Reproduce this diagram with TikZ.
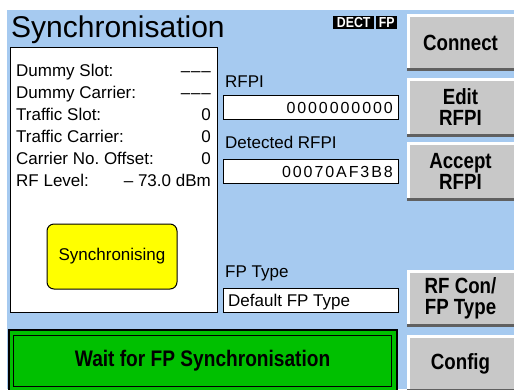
\documentclass[tikz,border=0pt]{standalone}
\usepackage{fontspec}
\setmainfont{Liberation Sans}
\newfontfamily\condfont[FakeStretch=0.85]{Liberation Sans}
\newfontfamily\digitfont[LetterSpace=12]{Liberation Sans}
\definecolor{panelblue}{RGB}{166,202,240}
\definecolor{btngray}{RGB}{200,200,200}
\definecolor{btnshadow}{RGB}{96,96,96}
\definecolor{statusgreen}{RGB}{0,192,0}
\definecolor{syncyellow}{RGB}{255,255,0}
\frenchspacing
\tikzset{
  lbl/.style={inner sep=0pt, font=\fontsize{17}{20}\selectfont},
  valbox/.style={draw=black, fill=white, line width=1.2pt, inner sep=0pt, anchor=north west, minimum width=175pt, minimum height=24pt},
  btn/.style={fill=btngray, inner sep=0pt, minimum width=107pt, align=center,
    font=\condfont\bfseries\fontsize{22}{21}\selectfont,
    path picture={
      \fill[white] (path picture bounding box.north west) rectangle ([yshift=-2.5pt]path picture bounding box.north east);
      \fill[white] (path picture bounding box.north west) rectangle ([xshift=2.5pt]path picture bounding box.south west);
      \fill[btnshadow] (path picture bounding box.south west) rectangle ([yshift=3pt]path picture bounding box.south east);
    }},
  badge/.style={fill=black, text=white, inner sep=0pt, anchor=north west, minimum height=13pt,
    font=\condfont\bfseries\fontsize{14.5}{13}\selectfont},
}
\newcommand{\nodash}{\textendash\kern0.8pt\textendash\kern0.8pt\textendash}
\begin{document}
\begin{tikzpicture}[x=1pt,y=-1pt]
\useasboundingbox (0,0) rectangle (514,389);
\fill[white] (0,0) rectangle (514,389);
\fill[panelblue] (7,10) rectangle (514,389);

% title
\node[inner sep=0pt, anchor=base west, font=\fontsize{30}{36}\selectfont] (title) at (11,37) {Synchronisation};
\node[badge, minimum width=41pt] (dect) at (333,16) {DECT};
\node[badge, minimum width=21pt] (fpb) at (376,16) {FP};

% left info panel
\node[draw=black, fill=white, line width=1.2pt, anchor=north west, minimum width=207pt, minimum height=265pt, inner sep=0pt] (infopanel) at (10,47) {};
\node[lbl, anchor=base west] (l1) at (16,76) {Dummy Slot:};
\node[lbl, anchor=base east] (v1) at (211,76) {\nodash};
\node[lbl, anchor=base west] (l2) at (16,98) {Dummy Carrier:};
\node[lbl, anchor=base east] (v2) at (211,98) {\nodash};
\node[lbl, anchor=base west] (l3) at (16,120) {Traffic Slot:};
\node[lbl, anchor=base east] (v3) at (211,120) {0};
\node[lbl, anchor=base west] (l4) at (16,142) {Traffic Carrier:};
\node[lbl, anchor=base east] (v4) at (211,142) {0};
\node[lbl, anchor=base west] (l5) at (16,164) {Carrier No. Offset:};
\node[lbl, anchor=base east] (v5) at (211,164) {0};
\node[lbl, anchor=base west] (l6) at (16,186) {RF Level:};
\node[lbl, anchor=base east] (v6) at (211,186) {\textendash{} 73.0 dBm};

\node[draw=black, fill=syncyellow, rounded corners=7pt, line width=1pt, minimum width=130pt, minimum height=65pt, inner sep=0pt, font=\fontsize{17}{20}\selectfont] (sync) at (112,256.5) {Synchronising};

% middle fields
\node[lbl, anchor=base west] (rfpilbl) at (225,87) {RFPI};
\node[valbox] (rfpibox) at (223,95) {};
\node[inner sep=0pt, anchor=base east, font=\digitfont\fontsize{16}{18}\selectfont] (rfpival) at (393,113) {0000000000};

\node[lbl, anchor=base west] (detlbl) at (225,148) {Detected RFPI};
\node[valbox] (detbox) at (223,159) {};
\node[inner sep=0pt, anchor=base east, font=\digitfont\fontsize{16}{18}\selectfont] (detval) at (393,177) {00070AF3B8};

\node[lbl, anchor=base west] (fplbl) at (225,277) {FP Type};
\node[valbox] (fpbox) at (223,288) {};
\node[lbl, anchor=base west] (fpval) at (228,306) {Default FP Type};

% status bar
\node[draw=black, line width=2pt, fill=statusgreen, anchor=north west, minimum width=388pt, minimum height=62pt, inner sep=0pt] (status) at (8,329) {};
\node[draw=black, line width=1.2pt, anchor=north west, minimum width=378pt, minimum height=51pt, inner sep=0pt, font=\condfont\bfseries\fontsize{22.5}{24}\selectfont] (statusinner) at (13,335) {Wait for FP Synchronisation};

% buttons
\node[btn, minimum height=57pt] (connect) at (460.5,42.5) {Connect};
\node[btn, minimum height=59pt] (editrfpi) at (460.5,107.5) {Edit\\RFPI};
\node[btn, minimum height=59pt] (acceptrfpi) at (460.5,171.5) {Accept\\RFPI};
\node[btn, minimum height=57pt] (rfcon) at (460.5,298.5) {RF Con/\\FP Type};
\node[btn, minimum height=57pt] (config) at (460.5,363.5) {Config};
\end{tikzpicture}
\end{document}
